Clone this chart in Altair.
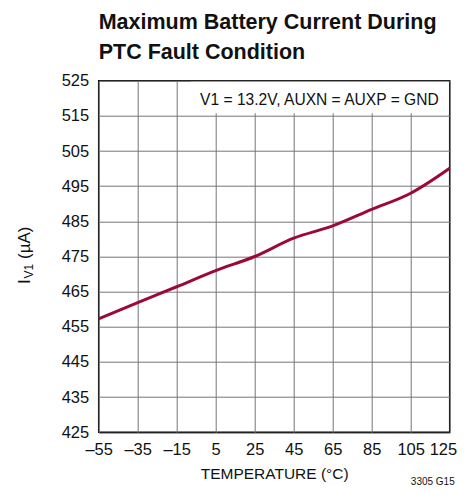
import altair as alt
import pandas as pd

temperature = [-55, -35, -15, 5, 25, 45, 65, 85, 105, 125]
current_ua = [457.3, 461.9, 466.4, 471.0, 475.0, 480.2, 483.7, 488.4, 493.0, 500.1]

x_ticks = [-55, -35, -15, 5, 25, 45, 65, 85, 105, 125]
y_ticks = [425, 435, 445, 455, 465, 475, 485, 495, 505, 515, 525]

title_lines = ["Maximum Battery Current During", "PTC Fault Condition"]
note_text = "V1 = 13.2V, AUXN = AUXP = GND"
x_title = "TEMPERATURE (°C)"
figure_id = "3305 G15"

FONT = "Liberation Sans, Arial, Helvetica, sans-serif"
W, H = 351, 351.6
GRID = "#747474"

df = pd.DataFrame({"t": temperature, "i": current_ua})

x_enc = alt.X(
    "t:Q",
    scale=alt.Scale(domain=[-55, 125], nice=False, zero=False),
    axis=alt.Axis(
        values=x_ticks, title=x_title, grid=True, gridColor=GRID, gridWidth=1,
        domain=False, ticks=False, labelPadding=9, labelFontSize=16.5,
        labelFont=FONT, labelColor="#111", titleFont=FONT, titleFontSize=15.5,
        titleFontWeight="normal", titleColor="#111", titlePadding=9,
        labelExpr="datum.value < 0 ? '\u2013' + abs(datum.value) : '' + datum.value",
        labelAlign={"condition": {"test": "datum.value == 125", "value": "right"}, "value": "center"},
        labelOffset={"condition": {"test": "datum.value == 125", "value": 7}, "value": 0},
        labelFlush=False, labelOverlap=False,
    ),
)
y_enc = alt.Y(
    "i:Q",
    scale=alt.Scale(domain=[425, 525], nice=False, zero=False),
    axis=alt.Axis(
        values=y_ticks, title=None, grid=True, gridColor=GRID, gridWidth=1,
        domain=False, ticks=False, labelPadding=10, labelFontSize=16.5,
        labelFont=FONT, labelColor="#111", labelFlush=False, labelOverlap=False,
    ),
)

line = alt.Chart(df).mark_line(
    color="#9B0A37", strokeWidth=3, interpolate="monotone"
).encode(x=x_enc, y=y_enc)

note_df = pd.DataFrame({"label": [note_text]})
note_box = alt.Chart(note_df).mark_rect(color="white").encode(
    x=alt.value(92), x2=alt.value(350), y=alt.value(1), y2=alt.value(32.5)
)
note = alt.Chart(note_df).mark_text(
    font=FONT, fontSize=15.6, align="right", baseline="alphabetic", color="#111"
).encode(text="label:N", x=alt.value(340), y=alt.value(24))

fig_df = pd.DataFrame({"label": [figure_id]})
fig = alt.Chart(fig_df).mark_text(
    font=FONT, fontSize=10, align="right", baseline="alphabetic", color="#111"
).encode(text="label:N", x=alt.value(356), y=alt.value(404))

ylab_df = pd.DataFrame({"a": ["I"], "b": ["V1"], "c": ["(µA)"]})
ylab_i = alt.Chart(ylab_df).mark_text(
    font=FONT, fontSize=17, angle=270, align="center", baseline="alphabetic", color="#111"
).encode(text="a:N", x=alt.value(-68.7), y=alt.value(201))
ylab_v = alt.Chart(ylab_df).mark_text(
    font=FONT, fontSize=12, angle=270, align="center", baseline="alphabetic", color="#111"
).encode(text="b:N", x=alt.value(-65.5), y=alt.value(190.5))
ylab_c = alt.Chart(ylab_df).mark_text(
    font=FONT, fontSize=17, angle=270, align="center", baseline="alphabetic", color="#111"
).encode(text="c:N", x=alt.value(-68.7), y=alt.value(162))

chart = alt.layer(line, note_box, note, fig, ylab_i, ylab_v, ylab_c).properties(
    width=W, height=H,
    autosize=alt.AutoSizeParams(type="none"),
    padding={"left": 90.7, "top": 72.7, "right": 7.3, "bottom": 53},
    title=alt.TitleParams(
        text=title_lines, anchor="start", font=FONT, fontSize=21.5, fontWeight="bold",
        lineHeight=30, color="#111", offset=9, frame="group",
    ),
).configure_view(stroke="black", strokeWidth=1.5)

chart.save("out.html", embed_options={"renderer": "svg", "actions": False})
